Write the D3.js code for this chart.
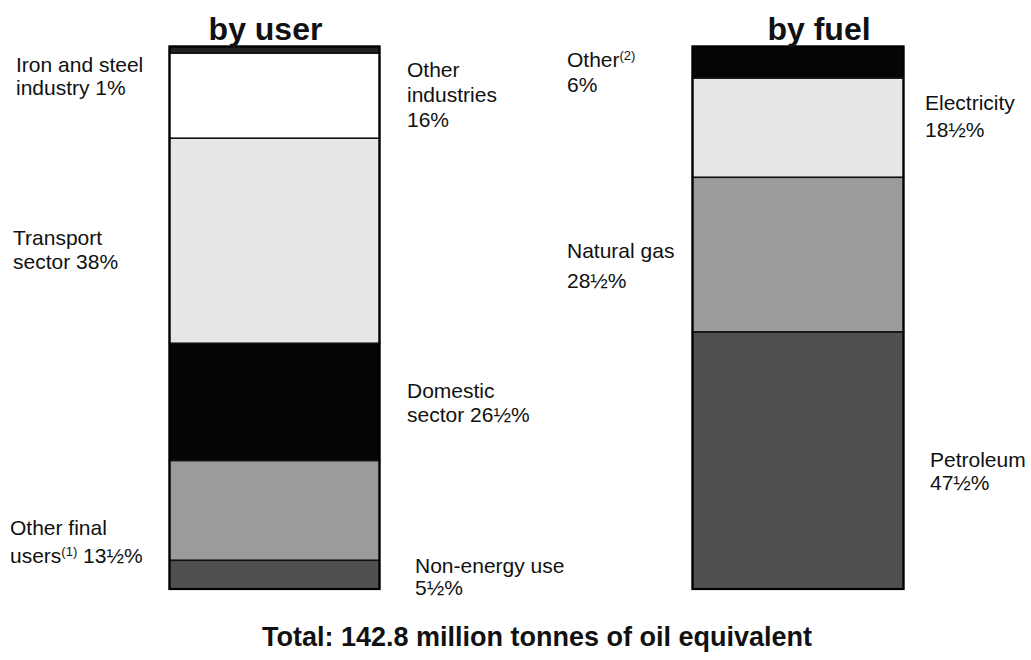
<!DOCTYPE html>
<html><head><meta charset="utf-8">
<script src="https://cdn.jsdelivr.net/npm/d3@7"></script>
<style>
body{margin:0;background:#fff;}
text{font-family:"Liberation Sans",Arial,sans-serif;fill:#111;}
</style></head>
<body>
<svg id="chart" width="1031" height="660"></svg>
<script>
// by user (bottom to top), share
const userCategories = ["Non-energy use","Other final users","Domestic sector","Transport sector","Other industries","Iron and steel industry"];
const userValues = [5.3, 18.4, 21.6, 37.8, 15.7, 1.2];
const userColors = ["#505050","#9b9b9b","#050505","#e6e6e6","#ffffff","#222222"];
// by fuel (bottom to top)
const fuelCategories = ["Petroleum","Natural gas","Electricity","Other"];
const fuelValues = [47.4, 28.5, 18.3, 5.8];
const fuelColors = ["#505050","#9c9c9c","#e6e6e6","#050505"];

const barNames = ["by user","by fuel"];
const totalLabel = "Total: 142.8 million tonnes of oil equivalent";

// labels: [lines], x, baseline of first line, line gap
const userLabels = [
  {lines:[["Iron and steel"],["industry 1%"]], x:16, y:72, gap:23},
  {lines:[["Other"],["industries"],["16%"]], x:407, y:77, gap:25},
  {lines:[["Transport"],["sector 38%"]], x:13, y:245, gap:24},
  {lines:[["Domestic"],["sector 26½%"]], x:407, y:398, gap:24},
  {lines:[["Other final"],["users","(1)"," 13½%"]], x:10, y:535, gap:28},
  {lines:[["Non-energy use"],["5½%"]], x:415, y:573, gap:22}
];
const fuelLabels = [
  {lines:[["Other","(2)"],["6%"]], x:567, y:67, gap:25},
  {lines:[["Electricity"],["18½%"]], x:925, y:110, gap:27},
  {lines:[["Natural gas"],["28½%"]], x:567, y:258, gap:30},
  {lines:[["Petroleum"],["47½%"]], x:930, y:467, gap:23}
];

const svg = d3.select("#chart");
const y = d3.scaleLinear().domain([0,100]).range([589,46.5]);
const bars = [
  {name:"by user", cats:userCategories, vals:userValues, cols:userColors, x0:169.5, x1:379.5, tx:265.5, labels:userLabels},
  {name:"by fuel", cats:fuelCategories, vals:fuelValues, cols:fuelColors, x0:692.5, x1:903.5, tx:819, labels:fuelLabels}
];

bars.forEach(b=>{
  let cum = 0;
  const segs = b.vals.map((v,i)=>{const s={c:b.cats[i],y0:cum,y1:cum+v,col:b.cols[i]}; cum+=v; return s;});
  const g = svg.append("g");
  g.selectAll("rect").data(segs).join("rect")
    .attr("x",b.x0).attr("width",b.x1-b.x0)
    .attr("y",d=>y(d.y1)).attr("height",d=>y(d.y0)-y(d.y1))
    .attr("fill",d=>d.col).attr("stroke","#111").attr("stroke-width",1.6);
  g.append("rect").attr("x",b.x0).attr("width",b.x1-b.x0)
    .attr("y",y(cum)).attr("height",y(0)-y(cum))
    .attr("fill","none").attr("stroke","#000").attr("stroke-width",2.2);
  svg.append("text").attr("x",b.tx).attr("y",40)
    .attr("text-anchor","middle").style("font-weight","bold").style("font-size","32px")
    .text(b.name);
  b.labels.forEach(L=>{
    const t = svg.append("text").attr("x",L.x).attr("y",L.y).style("font-size","21px");
    L.lines.forEach((parts,li)=>{
      parts.forEach((p,pi)=>{
        const sp = t.append("tspan").text(p);
        if(pi===0) sp.attr("x",L.x).attr("y",L.y+li*L.gap);
        if(p.startsWith("(")) sp.style("font-size","13px").attr("dy",-7);
        else if(pi>0 && parts[pi-1].startsWith("(")) sp.attr("dy",7);
      });
    });
  });
});

svg.append("text").attr("x",537).attr("y",646).attr("text-anchor","middle")
  .style("font-weight","bold").style("font-size","27px").text(totalLabel);
</script>
</body></html>
